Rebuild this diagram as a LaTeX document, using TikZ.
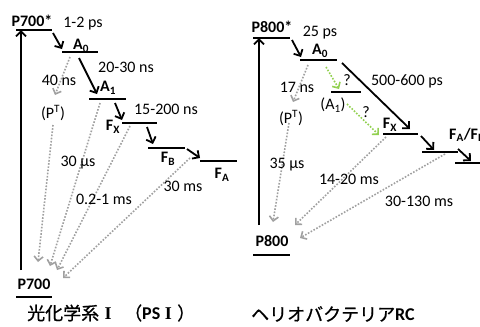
\documentclass[tikz,border=0pt]{standalone}
\usepackage{fontspec}
\setmainfont{Carlito}
\newfontfamily\jpfont[FakeBold=0.8]{Noto Sans CJK JP}
\newfontfamily\numeralfont{Liberation Serif}
\usetikzlibrary{arrows.meta}

\definecolor{decaygray}{HTML}{A0A0A0}
\definecolor{fwdgreen}{HTML}{92D050}

\newcommand{\romI}{{\numeralfont\bfseries I}}

\begin{document}
\begin{tikzpicture}[x=1pt,y=-1pt,
  level/.style={line width=2.2pt},
  xfer/.style={line width=1.8pt,-{Straight Barb[length=5pt,width=10pt]}},
  decay/.style={draw=decaygray,line width=1.6pt,dash pattern=on 1.6pt off 1.6pt,
                -{Straight Barb[length=4.5pt,width=9pt]}},
  guess/.style={decay,draw=fwdgreen},
  lbl/.style={inner sep=0pt,font=\fontsize{16}{18}\selectfont},
  blbl/.style={inner sep=0pt,font=\fontsize{16}{18}\selectfont\bfseries},
  ttl/.style={inner sep=0pt,anchor=west,font=\fontsize{18}{20}\selectfont}
]
\useasboundingbox (0,0) rectangle (480,327);

%% ---------- Photosystem I ----------
% energy levels
\coordinate (L-P7s-a) at (16,30);   \coordinate (L-P7s-b) at (52,30);
\coordinate (L-A0-a)  at (62,52);   \coordinate (L-A0-b)  at (98,52);
\coordinate (L-A1-a)  at (89,99);   \coordinate (L-A1-b)  at (126,99);
\coordinate (L-FX-a)  at (122,123); \coordinate (L-FX-b)  at (157,123);
\coordinate (L-FB-a)  at (148,148); \coordinate (L-FB-b)  at (185,148);
\coordinate (L-FA-a)  at (200,161); \coordinate (L-FA-b)  at (237,161);
\coordinate (L-P7-a)  at (16,297);  \coordinate (L-P7-b)  at (52,297);
\foreach \n in {P7s,A0,A1,FX,FB,FA,P7}
  \draw[level] (L-\n-a) -- (L-\n-b);

% excitation
\coordinate (L-up0) at (21,270); \coordinate (L-up1) at (21,30);
\draw[xfer] (L-up0) -- (L-up1);

% forward electron transfer
\coordinate (L-t1a) at (53,33);   \coordinate (L-t1b) at (62,49);
\coordinate (L-t2a) at (79,58);   \coordinate (L-t2b) at (97,94);
\coordinate (L-t3a) at (115,103); \coordinate (L-t3b) at (122,120);
\coordinate (L-t4a) at (147,127); \coordinate (L-t4b) at (153,144);
\coordinate (L-t5a) at (187,149); \coordinate (L-t5b) at (200,158);
\foreach \k in {1,...,5}
  \draw[xfer] (L-t\k a) -- (L-t\k b);

% charge recombination
\coordinate (L-r1a) at (70,57);   \coordinate (L-r1b) at (55,95);
\coordinate (L-r2a) at (53,125);  \coordinate (L-r2b) at (38,262);
\coordinate (L-r3a) at (100,103); \coordinate (L-r3b) at (50,266);
\coordinate (L-r4a) at (130,126); \coordinate (L-r4b) at (57,270);
\coordinate (L-r5a) at (190,158); \coordinate (L-r5b) at (63,278);
\foreach \k in {1,...,5}
  \draw[decay] (L-r\k a) -- (L-r\k b);

% labels
\node[blbl] (L-nP7s) at (32,21)  {P700*};
\node[blbl] (L-nA0)  at (81,46)  {A\textsubscript{0}};
\node[blbl] (L-nA1)  at (108,88) {A\textsubscript{1}};
\node[blbl] (L-nFX)  at (113,127){F\textsubscript{X}};
\node[blbl] (L-nFB)  at (168,159){F\textsubscript{B}};
\node[blbl] (L-nFA)  at (222,175){F\textsubscript{A}};
\node[blbl] (L-nP7)  at (34,284) {P700};
\node[lbl]  (L-nPT)  at (53,113) {(P\textsuperscript{T})};
\node[lbl]  (L-k1)   at (83,24)  {1-2 ps};
\node[lbl]  (L-k2)   at (126,67) {20-30 ns};
\node[lbl]  (L-k3)   at (166,109){15-200 ns};
\node[lbl]  (L-k4)   at (59,80)  {40 ns};
\node[lbl]  (L-k5)   at (78,163) {30 µs};
\node[lbl]  (L-k6)   at (104,199){0.2-1 ms};
\node[lbl]  (L-k7)   at (183,186){30 ms};
\node[ttl]  (L-title) at (27,313)
  {{\jpfont 光化学系}\hspace{0.3em}\romI\hspace{0.7em}{\jpfont （}{\bfseries PS}\hspace{0.25em}\romI\hspace{0.3em}{\jpfont ）}};

%% ---------- Heliobacterial RC ----------
\coordinate (R-P8s-a) at (253,38);  \coordinate (R-P8s-b) at (290,38);
\coordinate (R-A0-a)  at (300,60);  \coordinate (R-A0-b)  at (337,60);
\coordinate (R-A1-a)  at (331,92);  \coordinate (R-A1-b)  at (361,92);
\coordinate (R-FX-a)  at (383,134); \coordinate (R-FX-b)  at (418,134);
\coordinate (R-FA-a)  at (422,152); \coordinate (R-FA-b)  at (458,152);
\coordinate (R-FB-a)  at (455,163); \coordinate (R-FB-b)  at (492,163);
\coordinate (R-P8-a)  at (253,255); \coordinate (R-P8-b)  at (290,255);
\foreach \n in {P8s,A0,A1,FX,FA,FB,P8}
  \draw[level] (R-\n-a) -- (R-\n-b);

\coordinate (R-up0) at (259,225); \coordinate (R-up1) at (259,38);
\draw[xfer] (R-up0) -- (R-up1);

\coordinate (R-t1a) at (292,40);  \coordinate (R-t1b) at (301,57);
\coordinate (R-t2a) at (342,63);  \coordinate (R-t2b) at (410,129);
\coordinate (R-t3a) at (421,136); \coordinate (R-t3b) at (434,150);
\coordinate (R-t4a) at (458,149); \coordinate (R-t4b) at (471,161);
\foreach \k in {1,...,4}
  \draw[xfer] (R-t\k a) -- (R-t\k b);

% uncertain path through A1
\coordinate (R-g1a) at (326,67);  \coordinate (R-g1b) at (339,89);
\coordinate (R-g2a) at (347,104); \coordinate (R-g2b) at (379,135);
\draw[guess] (R-g1a) -- (R-g1b);
\draw[guess] (R-g2a) -- (R-g2b);

\coordinate (R-r1a) at (308,65);  \coordinate (R-r1b) at (293,102);
\coordinate (R-r2a) at (289,123); \coordinate (R-r2b) at (273,222);
\coordinate (R-r3a) at (386,137); \coordinate (R-r3b) at (295,225);
\coordinate (R-r4a) at (445,154); \coordinate (R-r4b) at (300,238);
\foreach \k in {1,...,4}
  \draw[decay] (R-r\k a) -- (R-r\k b);

\node[blbl] (R-nP8s) at (272,27)  {P800*};
\node[blbl] (R-nA0)  at (320,51)  {A\textsubscript{0}};
\node[blbl] (R-nFX)  at (390,125) {F\textsubscript{X}};
\node[blbl,anchor=west] (R-nFAB) at (449,135) {F\textsubscript{A}/F\textsubscript{B}};
\node[blbl] (R-nP8)  at (272,241) {P800};
\node[lbl]  (R-nA1)  at (333,105) {(A\textsubscript{1})};
\node[lbl]  (R-nPT)  at (291,118) {(P\textsuperscript{T})};
\node[lbl]  (R-q1)   at (347,80)  {?};
\node[lbl]  (R-q2)   at (366,112) {?};
\node[lbl]  (R-k1)   at (320,33)  {25 ps};
\node[lbl]  (R-k2)   at (407,81)  {500-600 ps};
\node[lbl]  (R-k3)   at (297,87)  {17 ns};
\node[lbl]  (R-k4)   at (287,165) {35 µs};
\node[lbl]  (R-k5)   at (349,179) {14-20 ms};
\node[lbl]  (R-k6)   at (419,201) {30-130 ms};
\node[ttl]  (R-title) at (251,314)
  {{\jpfont ヘリオバクテリア}{\bfseries RC}};
\end{tikzpicture}
\end{document}
